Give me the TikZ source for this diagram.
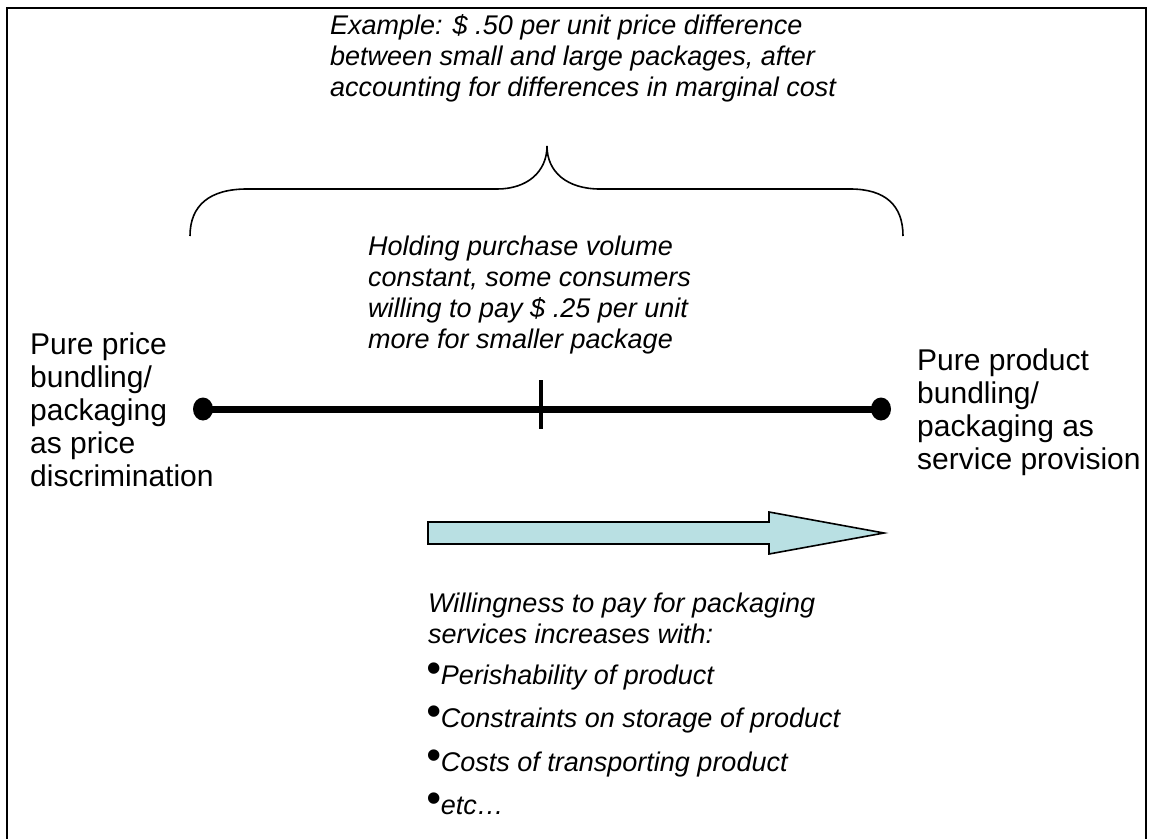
\documentclass[tikz,border=0pt]{standalone}
\usepackage{fontspec}
\setmainfont{Liberation Sans}
\usetikzlibrary{positioning, shapes.geometric, calc}
\usepackage{xcolor}
\definecolor{arrowblue}{RGB}{185,224,227}

\newcommand{\bigdot}{{\fontsize{42}{42}\selectfont\raisebox{2pt}{•}}}

\begin{document}
\begin{tikzpicture}[
    x=1pt, y=-1pt,
    side/.style={align=left, inner sep=0pt, font=\fontsize{30}{33}\selectfont},
    note/.style={align=left, inner sep=0pt, font=\fontsize{27}{31}\selectfont\itshape},
    item/.style={note, anchor=base west},
    endpoint/.style={ellipse, fill=black, minimum width=20pt, minimum height=23pt, inner sep=0pt},
    scaleline/.style={line width=7pt},
    tickmark/.style={line width=4pt},
    brace/.style={line width=1.6pt},
    blockarrow/.style={draw, line width=1.6pt, fill=arrowblue, line join=miter},
    frame/.style={line width=2pt}
]
    \useasboundingbox (0,0) rectangle (1153,838);
    \draw[frame] (7,845) -- (7,8) -- (1146,8) -- (1146,845);

    % texts above the scale
    \node[note, anchor=north west] (example) at (330,14)
        {Example: \$ .50 per unit price difference\\between small and large packages, after\\accounting for differences in marginal cost};
    \node[note, anchor=north west] (holding) at (368,236)
        {Holding purchase volume\\constant, some consumers\\willing to pay \$ .25 per unit\\more for smaller package};

    % brace under the example
    \coordinate (braceleft) at (190,236);
    \coordinate (braceright) at (903,236);
    \coordinate (bracetip) at (547,146);
    \draw[brace] (braceleft) .. controls (190,205) and (210,189) .. (247,189) -- (497,189)
        .. controls (527,189) and (547,172) .. (bracetip)
        .. controls (547,172) and (567,189) .. (600,189) -- (850,189)
        .. controls (885,189) and (903,205) .. (braceright);

    % the scale
    \node[endpoint] (lowend) at (203,409) {};
    \node[endpoint] (highend) at (881,409) {};
    \draw[scaleline] (lowend.center) -- (highend.center);
    \coordinate (midtick) at (541,409);
    \draw[tickmark] ($(midtick)+(0,-29)$) -- ($(midtick)+(0,20)$);

    \node[side, anchor=west] (pricedisc) at (30,410)
        {Pure price\\bundling/\\packaging\\as price\\discrimination};
    \node[side, anchor=west] (serviceprov) at (917,412)
        {Pure product\\bundling/\\packaging as\\service provision};

    % direction arrow
    \draw[blockarrow] (428,522) -- (769,522) -- (769,512) -- (884,533)
        -- (769,554) -- (769,544) -- (428,544) -- cycle;

    % texts below the arrow
    \node[note, anchor=north west] (willing) at (428,593)
        {Willingness to pay for packaging\\services increases with:};
    \node[item] (perish) at (426,684) {\bigdot Perishability of product};
    \node[item] (storage) at (426,727) {\bigdot Constraints on storage of product};
    \node[item] (transport) at (426,771) {\bigdot Costs of transporting product};
    \node[item] (etc) at (426,814) {\bigdot etc…};
\end{tikzpicture}
\end{document}
